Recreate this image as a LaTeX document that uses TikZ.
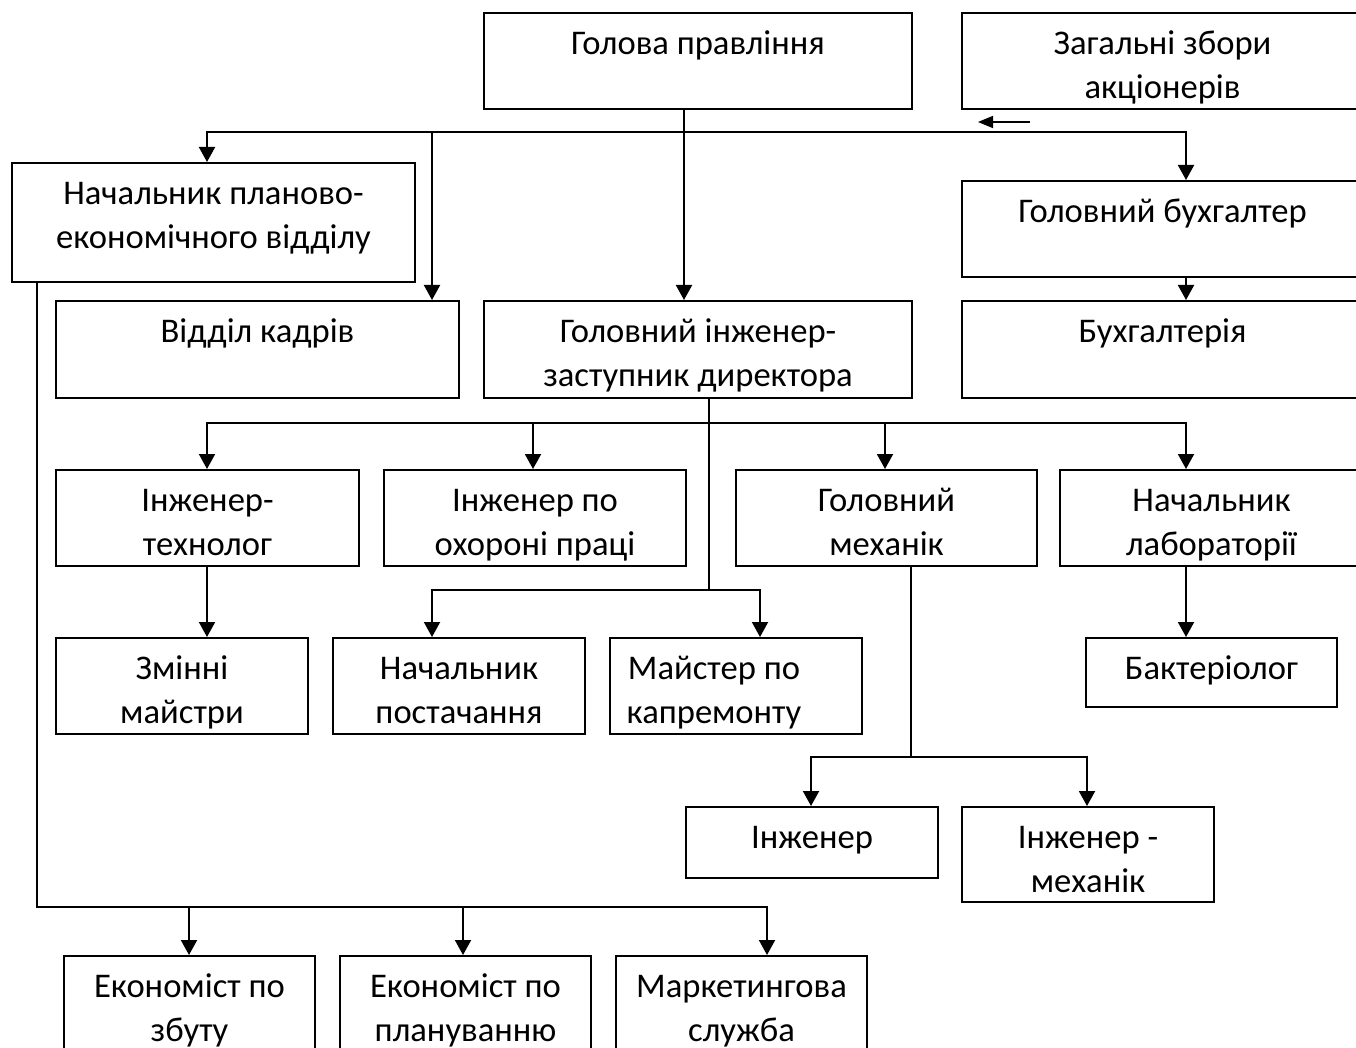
\documentclass[tikz,border=0pt]{standalone}
\usepackage{fontspec}
\setmainfont{Carlito}
\usetikzlibrary{arrows.meta}
\tikzset{
  orgframe/.style={draw, line width=2pt, inner sep=0pt, fill=white},
  orgtext/.style={inner sep=0pt, font=\fontsize{34.6}{44}\selectfont},
  ln/.style={line width=2pt},
  arr/.style={line width=2pt, -{Triangle[length=15pt,width=16pt]}},
  arrsmall/.style={line width=1.6pt, -{Triangle[length=15pt,width=12pt]}}
}
\newcommand\orgbox[7][0]{%
  \node[orgframe, minimum width={(#5-#3)*1pt}, minimum height={(#6-#4)*1pt}, anchor=north west] (#2) at (#3,#4) {};
  \node[orgtext, anchor=base, xshift=#1] (#2-t) at ([yshift=-42.5pt]#2.north) {\begin{tabular}[t]{@{}c@{}}#7\end{tabular}};
}
\begin{document}
\begin{tikzpicture}[x=1pt,y=-1pt]
\fill[white] (0,0) rectangle (1356,1048);
\useasboundingbox (0,0) rectangle (1356,1048);
% boxes
\orgbox{golova}{483}{12}{911}{108}{Голова правління}
\orgbox{zbory}{961}{12}{1362}{108}{Загальні збори\\акціонерів}
\orgbox{planovo}{11}{162}{414}{281}{Начальник планово-\\економічного відділу}
\orgbox{gbuh}{961}{180}{1362}{276}{Головний бухгалтер}
\orgbox{kadry}{55}{300}{458}{397}{Відділ кадрів}
\orgbox{ginzh}{483}{300}{911}{397}{Головний інженер-\\заступник директора}
\orgbox{buh}{961}{300}{1362}{397}{Бухгалтерія}
\orgbox{tech}{55}{469}{358}{565}{Інженер-\\технолог}
\orgbox{ohor}{383}{469}{685}{565}{Інженер по\\охороні праці}
\orgbox{mech}{735}{469}{1036}{565}{Головний\\механік}
\orgbox{lab}{1059}{469}{1362}{565}{Начальник\\лабораторії}
\orgbox{zminni}{55}{637}{307}{733}{Змінні\\майстри}
\orgbox{post}{332}{637}{584}{733}{Начальник\\постачання}
\orgbox[-22]{maist}{609}{637}{861}{733}{Майстер по\\капремонту}
\orgbox{bakt}{1085}{637}{1336}{706}{Бактеріолог}
\orgbox{inzh}{685}{806}{937}{877}{Інженер}
\orgbox{inzhm}{961}{806}{1213}{901}{Інженер -\\механік}
\orgbox{ek1}{63}{955}{314}{1052}{Економіст по\\збуту}
\orgbox{ek2}{339}{955}{590}{1052}{Економіст по\\плануванню}
\orgbox{mark}{615}{955}{866}{1052}{Маркетингова\\служба}
% guides
\coordinate (busA) at (0,132);
\coordinate (busB) at (0,423);
\coordinate (busC) at (0,590);
\coordinate (busD) at (0,757);
\coordinate (busE) at (0,907);
\coordinate (x37) at (37,0);
\coordinate (x189) at (189,0);
\coordinate (x207) at (207,0);
\coordinate (x432) at (432,0);
\coordinate (x463) at (463,0);
\coordinate (x533) at (533,0);
\coordinate (x684) at (684,0);
\coordinate (x709) at (709,0);
\coordinate (x760) at (760,0);
\coordinate (x767) at (767,0);
\coordinate (x811) at (811,0);
\coordinate (x885) at (885,0);
\coordinate (x911) at (911,0);
\coordinate (x1087) at (1087,0);
\coordinate (x1186) at (1186,0);
\coordinate (sa1) at (1030,122);
\coordinate (sa2) at (978,122);
% connectors
\draw[arr] (x684|-golova.south) -- (x684|-ginzh.north);
\draw[arr] (x684|-busA) -| (x207|-planovo.north);
\draw[arr] (x684|-busA) -| (x1186|-gbuh.north);
\draw[arr] (x432|-busA) -- (x432|-kadry.north);
\draw[arrsmall] (sa1) -- (sa2);
\draw[arr] (x1186|-gbuh.south) -- (x1186|-buh.north);
\draw[ln] (x709|-ginzh.south) -- (x709|-busC);
\draw[arr] (x709|-busB) -| (x207|-tech.north);
\draw[arr] (x709|-busB) -| (x1186|-lab.north);
\draw[arr] (x533|-busB) -- (x533|-ohor.north);
\draw[arr] (x885|-busB) -- (x885|-mech.north);
\draw[arr] (x709|-busC) -| (x432|-post.north);
\draw[arr] (x709|-busC) -| (x760|-maist.north);
\draw[arr] (x207|-tech.south) -- (x207|-zminni.north);
\draw[arr] (x1186|-lab.south) -- (x1186|-bakt.north);
\draw[ln] (x911|-mech.south) -- (x911|-busD);
\draw[arr] (x911|-busD) -| (x811|-inzh.north);
\draw[arr] (x911|-busD) -| (x1087|-inzhm.north);
\draw[arr] (x37|-planovo.south) -- (x37|-busE) -| (x767|-mark.north);
\draw[arr] (x189|-busE) -- (x189|-ek1.north);
\draw[arr] (x463|-busE) -- (x463|-ek2.north);
\end{tikzpicture}
\end{document}
